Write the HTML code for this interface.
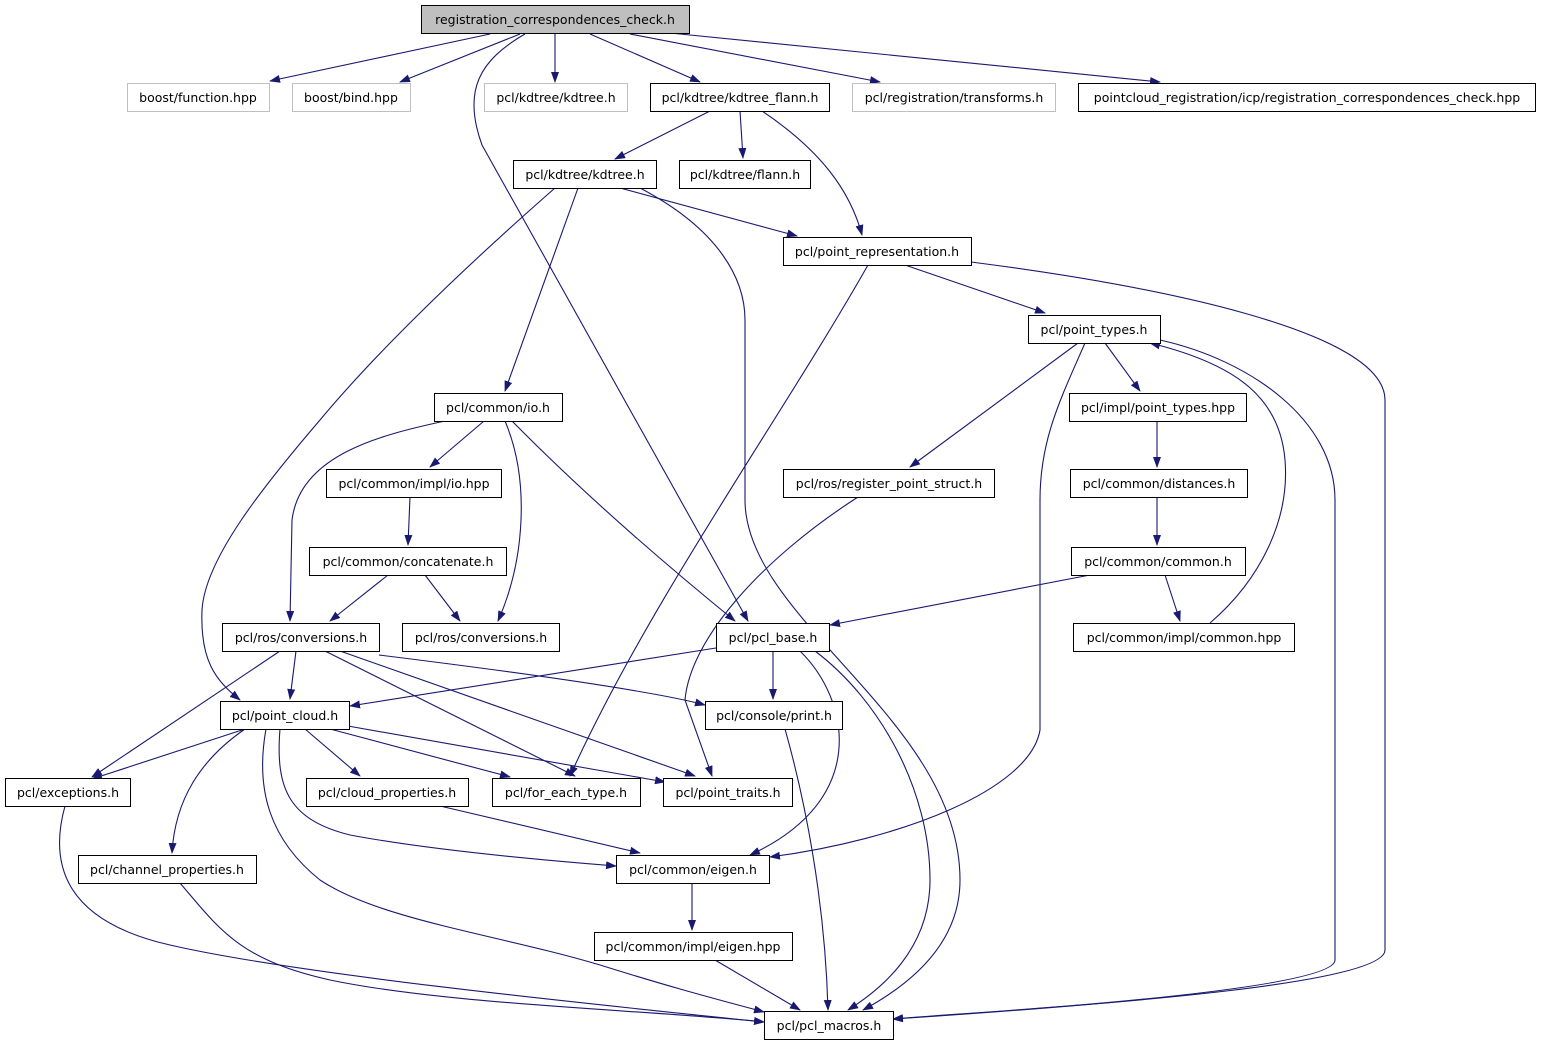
<!DOCTYPE html>
<html><head><meta charset="utf-8"><style>
html,body{margin:0;padding:0;background:#fff;}
svg{display:block;}
text{font-family:"DejaVu Sans","Liberation Sans",sans-serif;font-size:12.5px;fill:#000;}
.e{fill:none;stroke:#191970;stroke-width:1.1;marker-end:url(#a);}
.n{fill:#fff;stroke:#000;stroke-width:1;}
.g{fill:#fff;stroke:#bfbfbf;stroke-width:1;}
</style></head><body>
<svg width="1541" height="1045" viewBox="0 0 1541 1045" xmlns="http://www.w3.org/2000/svg">
<defs><marker id="a" markerUnits="userSpaceOnUse" markerWidth="11" markerHeight="8" refX="10" refY="4" orient="auto"><path d="M0,0 L11,4 L0,8 z" fill="#191970"/></marker></defs>
<g>
<path class="e" d="M490,34 L270,81"/>
<path class="e" d="M520,34 L400,82"/>
<path class="e" d="M555,34 L555,82"/>
<path class="e" d="M590,34 L700,82"/>
<path class="e" d="M630,34 L880,82"/>
<path class="e" d="M670,33 L1160,82"/>
<path class="e" d="M525,34 C480,60 462,90 482,145 L748,621"/>
<path class="e" d="M710,111 L615,159"/>
<path class="e" d="M740,111 L743,158"/>
<path class="e" d="M762,111 C820,150 850,190 862,235"/>
<path class="e" d="M620,188 L797,236"/>
<path class="e" d="M578,188 L505,391"/>
<path class="e" d="M555,188 C450,280 370,360 320,420 C260,490 205,560 202,610 C200,660 215,680 240,700"/>
<path class="e" d="M640,188 C720,230 745,280 745,320 L745,500 C745,620 960,720 960,880 C960,950 900,990 863,1010"/>
<path class="e" d="M905,265 L1045,313"/>
<path class="e" d="M868,265 C780,420 650,600 570,776"/>
<path class="e" d="M971,262 C1150,285 1385,330 1385,400 L1385,950 C1385,990 1000,1010 893,1019"/>
<path class="e" d="M1105,343 L1140,391"/>
<path class="e" d="M1078,343 L910,467"/>
<path class="e" d="M1085,343 C1060,400 1040,440 1040,500 L1040,730 C1030,790 900,840 770,857"/>
<path class="e" d="M1160,340 C1250,360 1335,420 1335,500 L1335,960 C1335,990 1000,1012 893,1019"/>
<path class="e" d="M1157,421 L1157,467"/>
<path class="e" d="M1157,497 L1157,545"/>
<path class="e" d="M1090,575 L830,625"/>
<path class="e" d="M1165,575 L1180,621"/>
<path class="e" d="M1210,623 C1260,580 1290,520 1285,460 C1280,400 1240,365 1150,343"/>
<path class="e" d="M484,421 L430,467"/>
<path class="e" d="M445,421 C380,435 300,455 292,520 L290,621"/>
<path class="e" d="M505,421 C530,480 525,560 498,621"/>
<path class="e" d="M512,421 C580,490 660,560 735,621"/>
<path class="e" d="M410,497 L408,545"/>
<path class="e" d="M388,575 L330,621"/>
<path class="e" d="M425,575 L460,621"/>
<path class="e" d="M296,651 L290,699"/>
<path class="e" d="M280,651 L92,777"/>
<path class="e" d="M325,651 L575,776"/>
<path class="e" d="M340,651 L695,776"/>
<path class="e" d="M379,655 C500,670 650,690 705,705"/>
<path class="e" d="M716,648 L350,706"/>
<path class="e" d="M773,651 L773,699"/>
<path class="e" d="M800,651 C850,700 870,800 750,855"/>
<path class="e" d="M815,651 C880,700 930,790 930,880 C930,950 880,990 848,1010"/>
<path class="e" d="M245,729 L92,779"/>
<path class="e" d="M305,729 L360,776"/>
<path class="e" d="M330,729 L510,777"/>
<path class="e" d="M348,726 L665,782"/>
<path class="e" d="M245,729 C200,760 175,800 172,853"/>
<path class="e" d="M280,729 C275,790 290,820 350,835 C430,850 540,860 616,866"/>
<path class="e" d="M266,729 C255,790 270,840 320,880 C380,920 500,935 600,965 C680,990 720,1000 764,1012"/>
<path class="e" d="M785,729 C805,800 825,900 828,1010"/>
<path class="e" d="M440,806 L640,853"/>
<path class="e" d="M65,806 C50,860 60,920 170,945 C300,975 600,1005 764,1022"/>
<path class="e" d="M180,883 C220,930 240,960 330,980 C450,1005 650,1010 764,1022"/>
<path class="e" d="M692,883 L692,930"/>
<path class="e" d="M715,960 L800,1010"/>
<path class="e" d="M858,497 C760,560 690,640 685,700 L712,776"/>
</g>
<g text-anchor="middle">
<rect x="421.5" y="5.5" width="268" height="28" fill="#bfbfbf" stroke="#000"/><text x="555" y="24">registration_correspondences_check.h</text>
<rect class="g" x="127.5" y="83.5" width="142" height="28"/><text x="198" y="102">boost/function.hpp</text>
<rect class="g" x="292.5" y="83.5" width="118" height="28"/><text x="351" y="102">boost/bind.hpp</text>
<rect class="g" x="484.5" y="83.5" width="143" height="28"/><text x="556" y="102">pcl/kdtree/kdtree.h</text>
<rect class="n" x="650.5" y="83.5" width="179" height="28"/><text x="740" y="102">pcl/kdtree/kdtree_flann.h</text>
<rect class="g" x="852.5" y="83.5" width="203" height="28"/><text x="954" y="102">pcl/registration/transforms.h</text>
<rect class="n" x="1078.5" y="83.5" width="457" height="28"/><text x="1307" y="102">pointcloud_registration/icp/registration_correspondences_check.hpp</text>
<rect class="n" x="513.5" y="160.5" width="143" height="28"/><text x="585" y="179">pcl/kdtree/kdtree.h</text>
<rect class="n" x="679.5" y="160.5" width="131" height="28"/><text x="745" y="179">pcl/kdtree/flann.h</text>
<rect class="n" x="783.5" y="237.5" width="188" height="28"/><text x="877" y="256">pcl/point_representation.h</text>
<rect class="n" x="1028.5" y="315.5" width="132" height="28"/><text x="1094" y="334">pcl/point_types.h</text>
<rect class="n" x="434.5" y="393.5" width="128" height="28"/><text x="498" y="412">pcl/common/io.h</text>
<rect class="n" x="1069.5" y="393.5" width="177" height="28"/><text x="1158" y="412">pcl/impl/point_types.hpp</text>
<rect class="n" x="326.5" y="469.5" width="175" height="28"/><text x="414" y="488">pcl/common/impl/io.hpp</text>
<rect class="n" x="783.5" y="469.5" width="211" height="28"/><text x="889" y="488">pcl/ros/register_point_struct.h</text>
<rect class="n" x="1070.5" y="469.5" width="177" height="28"/><text x="1159" y="488">pcl/common/distances.h</text>
<rect class="n" x="309.5" y="547.5" width="197" height="28"/><text x="408" y="566">pcl/common/concatenate.h</text>
<rect class="n" x="1071.5" y="547.5" width="174" height="28"/><text x="1158" y="566">pcl/common/common.h</text>
<rect class="n" x="222.5" y="623.5" width="157" height="28"/><text x="301" y="642">pcl/ros/conversions.h</text>
<rect class="n" x="402.5" y="623.5" width="157" height="28"/><text x="481" y="642">pcl/ros/conversions.h</text>
<rect class="n" x="716.5" y="623.5" width="113" height="28"/><text x="773" y="642">pcl/pcl_base.h</text>
<rect class="n" x="1073.5" y="623.5" width="221" height="28"/><text x="1184" y="642">pcl/common/impl/common.hpp</text>
<rect class="n" x="220.5" y="701.5" width="129" height="28"/><text x="285" y="720">pcl/point_cloud.h</text>
<rect class="n" x="705.5" y="701.5" width="137" height="28"/><text x="774" y="720">pcl/console/print.h</text>
<rect class="n" x="5.5" y="778.5" width="125" height="28"/><text x="68" y="797">pcl/exceptions.h</text>
<rect class="n" x="306.5" y="778.5" width="162" height="28"/><text x="387" y="797">pcl/cloud_properties.h</text>
<rect class="n" x="492.5" y="778.5" width="148" height="28"/><text x="566" y="797">pcl/for_each_type.h</text>
<rect class="n" x="663.5" y="778.5" width="129" height="28"/><text x="728" y="797">pcl/point_traits.h</text>
<rect class="n" x="78.5" y="855.5" width="178" height="28"/><text x="167" y="874">pcl/channel_properties.h</text>
<rect class="n" x="616.5" y="855.5" width="153" height="28"/><text x="693" y="874">pcl/common/eigen.h</text>
<rect class="n" x="594.5" y="932.5" width="198" height="28"/><text x="693" y="951">pcl/common/impl/eigen.hpp</text>
<rect class="n" x="764.5" y="1011.5" width="129" height="28"/><text x="829" y="1030">pcl/pcl_macros.h</text>
</g>
</svg>
</body></html>
